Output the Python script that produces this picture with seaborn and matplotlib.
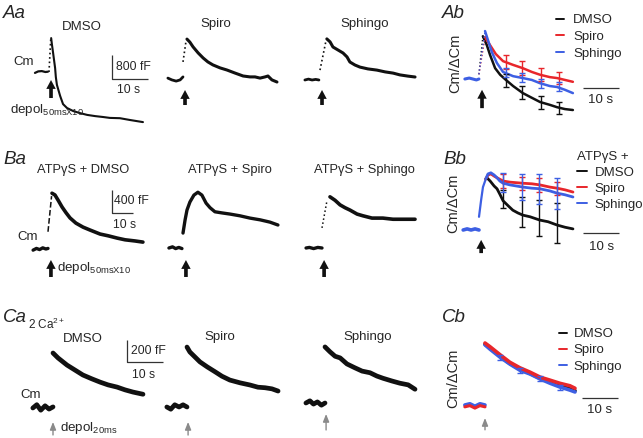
import matplotlib
matplotlib.use("Agg")
import matplotlib.pyplot as plt
import seaborn as sns

# ---------------- data (time in s from depolarisation, Cm in fF or normalised) ----------------
# Aa : raw Cm traces (fF)
aa_dmso_base_t = [-3.9, -3.0, -2.0, -1.0, -0.3]
aa_dmso_base_c = [-30, 20, 30, 0, 10]
aa_dmso_rise_t = [0.0, 0.5]
aa_dmso_rise_c = [0, 1130]
aa_dmso_t = [0.6, 0.8, 1.1, 1.4, 1.7, 1.9, 2.2, 3.1, 3.9, 5.0, 6.7, 8.6, 10.6, 12.8, 15.0, 16.9, 19.7, 22.5, 26.1]
aa_dmso_c = [1130, 930, 670, 400, 130, -170, -430, -800, -1070, -1200, -1300, -1370, -1430, -1470, -1500, -1530, -1540, -1600, -1670]

aa_spiro_base_t = [-4.2, -3.1, -1.9, -0.8, 0.0]
aa_spiro_base_c = [30, -30, -70, -30, 70]
aa_spiro_rise_t = [0.0, 0.8]
aa_spiro_rise_c = [570, 1230]
aa_spiro_t = [1.1, 1.9, 2.8, 4.2, 5.6, 6.9, 8.3, 10.3, 12.2, 14.4, 16.7, 18.6, 20.0, 21.4, 22.8, 23.6, 24.7, 26.1]
aa_spiro_c = [1330, 1230, 1070, 870, 700, 570, 470, 370, 300, 200, 100, 70, 70, 30, 70, 100, -30, -100]

aa_sph_base_t = [-4.2, -3.2, -2.2, -1.2, -0.3]
aa_sph_base_c = [0, 30, 0, 20, 0]
aa_sph_rise_t = [0.0, 1.7]
aa_sph_rise_c = [330, 1330]
aa_sph_t = [1.9, 2.8, 3.6, 5.0, 6.4, 7.5, 8.3, 9.7, 11.1, 13.3, 15.8, 18.1, 20.3, 22.2, 24.4, 26.4]
aa_sph_c = [1370, 1270, 1100, 1000, 900, 770, 600, 500, 430, 370, 330, 270, 230, 170, 130, 100]

# Ab : normalised Cm/dCm
ab_base_t = [-4.2, -3.0, -2.0, -1.0, -0.3]
ab_base_c = [0.0, 0.02, 0.0, -0.02, 0.0]
ab_black_t = [0.8, 1.9, 2.8, 4.2, 5.6, 7.2, 9.2, 11.9, 14.4, 16.7, 19.4, 21.4, 23.6, 25.8]
ab_black_c = [0.91, 0.72, 0.51, 0.23, 0.09, -0.02, -0.15, -0.30, -0.40, -0.49, -0.55, -0.60, -0.64, -0.66]
ab_red_t = [1.4, 2.8, 4.4, 6.4, 9.2, 11.9, 14.4, 16.7, 19.4, 21.4, 23.6, 25.8]
ab_red_c = [0.89, 0.72, 0.53, 0.38, 0.30, 0.23, 0.15, 0.09, 0.04, 0.02, -0.02, -0.06]
ab_blue_t = [1.4, 2.2, 3.3, 4.7, 6.4, 9.2, 11.9, 14.4, 16.7, 19.4, 21.4, 23.6, 25.8]
ab_blue_c = [1.02, 0.83, 0.57, 0.34, 0.15, 0.06, 0.02, -0.02, -0.09, -0.15, -0.17, -0.23, -0.30]
ab_err_t = [7.2, 11.7, 16.9, 21.9]
ab_black_m = [-0.03, -0.29, -0.50, -0.61]
ab_black_e = [0.14, 0.14, 0.13, 0.13]
ab_red_m = [0.36, 0.23, 0.09, 0.02]
ab_red_e = [0.15, 0.15, 0.14, 0.13]
ab_blue_m = [0.14, 0.03, -0.09, -0.16]
ab_blue_e = [0.10, 0.10, 0.10, 0.10]

# Ba : raw Cm traces with ATPgS (fF)
ba_dmso_base_t = [-7.1, -5.5, -4.0, -2.5, -1.0, 0.0]
ba_dmso_base_c = [-20, 10, -10, 20, 0, 10]
ba_dmso_rise_t = [0.0, 1.7]
ba_dmso_rise_c = [300, 920]
ba_dmso_t = [1.9, 3.3, 4.8, 6.7, 8.6, 10.5, 13.3, 16.7, 20.0, 24.8, 28.6, 32.9, 36.7, 41.4, 45.2]
ba_dmso_c = [970, 940, 850, 730, 630, 540, 450, 380, 330, 260, 230, 190, 160, 140, 120]

ba_spiro_base_t = [-6.7, -5.0, -3.5, -2.0, -0.5]
ba_spiro_base_c = [0, 20, -10, 10, -10]
ba_spiro_t = [0.0, 1.0, 1.9, 3.3, 5.2, 7.1, 9.0, 11.0, 12.9, 15.2, 18.6, 22.4, 27.1, 31.9, 36.7, 41.4, 45.2]
ba_spiro_c = [260, 490, 660, 800, 920, 970, 920, 780, 700, 630, 610, 590, 560, 520, 490, 450, 400]

ba_sph_base_t = [-7.6, -6.0, -4.0, -2.0, 0.0]
ba_sph_base_c = [0, 10, -10, 10, 0]
ba_sph_rise_t = [0.0, 2.4]
ba_sph_rise_c = [350, 830]
ba_sph_t = [3.8, 6.2, 8.6, 11.0, 13.3, 16.7, 19.5, 23.8, 29.0, 33.8, 38.6, 44.3]
ba_sph_c = [890, 830, 750, 700, 660, 590, 560, 520, 520, 500, 500, 500]

# Bb : normalised
bb_base_t = [-4.4, -3.3, -2.2, -1.1, 0.0]
bb_base_c = [0.0, 0.02, 0.0, 0.02, 0.0]
bb_rise_t = [0.0, 0.6, 1.1, 1.9]
bb_rise_c = [0.24, 0.55, 0.78, 0.93]
bb_black_t = [1.9, 2.2, 3.1, 4.2, 5.0, 5.8, 6.7, 8.1, 9.4, 10.8, 12.2, 14.2, 16.9, 19.2, 21.7, 23.9, 26.1]
bb_black_c = [0.93, 0.95, 0.89, 0.80, 0.75, 0.65, 0.53, 0.44, 0.36, 0.31, 0.27, 0.24, 0.18, 0.15, 0.09, 0.05, 0.02]
bb_red_t = [1.9, 2.5, 3.3, 4.2, 5.0, 6.7, 8.6, 12.2, 14.7, 16.9, 19.7, 21.7, 23.9, 26.1]
bb_red_c = [0.93, 1.00, 1.02, 0.98, 0.95, 0.89, 0.87, 0.85, 0.84, 0.82, 0.78, 0.76, 0.73, 0.69]
bb_blue_t = [1.9, 2.5, 3.3, 4.2, 5.0, 5.8, 6.7, 8.6, 12.2, 14.7, 16.9, 19.7, 21.7, 23.9, 26.1]
bb_blue_c = [0.93, 1.02, 1.04, 1.00, 0.95, 0.89, 0.85, 0.82, 0.78, 0.76, 0.75, 0.71, 0.67, 0.64, 0.60]
bb_err_t = [6.7, 11.9, 16.7, 21.7]
bb_black_m = [0.56, 0.33, 0.22, 0.13]
bb_black_e = [0.16, 0.27, 0.33, 0.36]
bb_red_m = [0.89, 0.85, 0.82, 0.76]
bb_red_e = [0.12, 0.12, 0.12, 0.12]
bb_blue_m = [0.86, 0.78, 0.75, 0.67]
bb_blue_e = [0.17, 0.24, 0.27, 0.28]

# Ca : raw Cm traces, 2 mM Ca2+ (fF)
ca_dmso_base_t = [-5.6, -4.5, -3.4, -2.2, -1.1, 0.0]
ca_dmso_base_c = [0, 30, -20, 20, -10, 10]
ca_dmso_t = [0.0, 1.4, 3.9, 6.1, 8.3, 10.8, 13.1, 15.3, 17.8, 20.0, 22.2, 25.0]
ca_dmso_c = [500, 455, 390, 345, 300, 265, 235, 210, 190, 165, 145, 125]
ca_spiro_base_t = [-5.6, -4.5, -3.4, -2.2, -1.1, 0.0]
ca_spiro_base_c = [0, -20, 20, 0, 20, 0]
ca_spiro_t = [0.0, 0.8, 2.2, 3.6, 5.6, 7.8, 9.7, 11.9, 14.7, 17.5, 19.7, 21.7, 23.6, 25.3]
ca_spiro_c = [545, 500, 455, 410, 365, 320, 280, 245, 220, 200, 180, 175, 165, 145]
ca_sph_base_t = [-5.3, -4.2, -3.2, -2.1, -1.0, 0.0]
ca_sph_base_c = [0, 20, -10, 10, -20, 0]
ca_sph_t = [0.0, 1.4, 2.8, 4.2, 6.1, 8.3, 10.3, 12.5, 14.4, 16.1, 18.6, 20.8, 23.1, 25.0]
ca_sph_c = [510, 465, 425, 410, 355, 320, 290, 275, 245, 225, 200, 180, 165, 125]

# Cb : normalised
cb_base_t = [-5.6, -4.2, -2.8, -1.4, 0.0]
cb_base_c = [0.0, 0.02, -0.02, 0.02, 0.0]
cb_t = [0.0, 1.4, 4.2, 6.9, 9.7, 12.5, 15.3, 18.1, 20.8, 23.6, 25.0]
cb_black_c = [0.98, 0.92, 0.79, 0.67, 0.58, 0.51, 0.43, 0.37, 0.31, 0.26, 0.23]
cb_red_c = [1.00, 0.94, 0.81, 0.69, 0.60, 0.53, 0.45, 0.40, 0.35, 0.31, 0.27]
cb_blue_c = [0.97, 0.90, 0.77, 0.66, 0.56, 0.50, 0.42, 0.35, 0.29, 0.24, 0.21]
cb_err_t = [4.2, 9.7, 15.3, 20.8]
cb_blue_m = [0.77, 0.56, 0.42, 0.29]
cb_blue_e = [0.04, 0.04, 0.04, 0.04]

conditions = ["DMSO", "Spiro", "Sphingo"]
scale_time = 10          # s
scale_aa = 800           # fF
scale_ba = 400           # fF
scale_ca = 200           # fF

# ---------------- style ----------------
sns.set_theme(style="white")
plt.rcParams["font.family"] = ["Liberation Sans", "DejaVu Sans"]
plt.rcParams["mathtext.fontset"] = "custom"
plt.rcParams["mathtext.rm"] = "Liberation Sans"
plt.rcParams["mathtext.it"] = "Liberation Sans:italic"

BLACK = "#111111"
RED = "#e8262b"
BLUE = "#3d5fe3"
GRAY = "#8a8a8a"
FS = 9

W, H = 643, 438
fig = plt.figure(figsize=(W / 100, H / 100), dpi=100)
fig.patch.set_facecolor("white")


def panel(rect, x0, y0, pps, ppu):
    l, t, r, b = rect
    ax = fig.add_axes([l / W, 1 - b / H, (r - l) / W, (b - t) / H])
    ax.set_xlim((l - x0) / pps, (r - x0) / pps)
    ax.set_ylim((y0 - b) / ppu, (y0 - t) / ppu)
    ax.axis("off")
    return ax


def trace(ax, t, c, color=BLACK, lw=1.6, ls="-", label=None):
    sns.lineplot(x=t, y=c, ax=ax, color=color, lw=lw, linestyle=ls,
                 estimator=None, sort=False, label=label, legend=False)


def T(x, y, s, ha="left", va="center", size=FS, **kw):
    fig.text(x / W, 1 - y / H, s, ha=ha, va=va, fontsize=size, **kw)


def big_arrow(ax, t, c_head, c_tail):
    ax.annotate("", xy=(t, c_head), xytext=(t, c_tail),
                arrowprops=dict(arrowstyle="simple,head_length=0.8,head_width=0.85,tail_width=0.33",
                                color=BLACK, lw=0, shrinkA=0, shrinkB=0, mutation_scale=8))


def thin_arrow(ax, t, c_head, c_tail):
    ax.annotate("", xy=(t, c_head), xytext=(t, c_tail),
                arrowprops=dict(arrowstyle="-|>,head_length=0.45,head_width=0.18",
                                color=GRAY, lw=1.0, shrinkA=0, shrinkB=0, mutation_scale=10))


def vscale(ax, t, c, dt, dc):
    ax.plot([t, t, t + dt], [c + dc, c, c], color="#333333", lw=0.9, solid_capstyle="butt")


def hscale(ax, t, c, dt):
    ax.plot([t, t + dt], [c, c], color="#333333", lw=0.9, solid_capstyle="butt")


def legend(ax, handles, labels, x, y, spacing, **kw):
    leg = ax.legend(handles, labels, loc="upper left", bbox_to_anchor=(x / W, 1 - y / H),
                    bbox_transform=fig.transFigure, frameon=False, fontsize=FS + 0.5,
                    labelspacing=spacing, borderpad=0, borderaxespad=0, **kw)
    for ln in leg.get_lines():
        ln.set_linewidth(1.4)
    return leg


# ---------------- Row A ----------------
ax = panel((28, 28, 160, 126), 49, 72, 3.6, 0.03)
trace(ax, aa_dmso_base_t, aa_dmso_base_c, lw=1.6)
trace(ax, aa_dmso_rise_t, aa_dmso_rise_c, lw=1.2, ls=":")
trace(ax, aa_dmso_t, aa_dmso_c, lw=1.5)
big_arrow(ax, 0.56, -267, -867)
vscale(ax, 17.5, -233, scale_time, scale_aa)

ax = panel((163, 28, 292, 126), 183, 79, 3.6, 0.03)
trace(ax, aa_spiro_base_t, aa_spiro_base_c, lw=2.0)
trace(ax, aa_spiro_rise_t, aa_spiro_rise_c, lw=1.2, ls=":")
trace(ax, aa_spiro_t, aa_spiro_c, lw=2.2)
big_arrow(ax, 0.56, -367, -867)

ax = panel((300, 28, 428, 126), 320, 80, 3.6, 0.03)
trace(ax, aa_sph_base_t, aa_sph_base_c, lw=2.0)
trace(ax, aa_sph_rise_t, aa_sph_rise_c, lw=1.2, ls=":")
trace(ax, aa_sph_t, aa_sph_c, lw=2.2)
big_arrow(ax, 0.56, -333, -833)

ax = panel((458, 22, 630, 118), 480, 79, 3.6, 47)
for col, tt, cc, lab in [(BLACK, ab_black_t, ab_black_c, conditions[0]),
                         (RED, ab_red_t, ab_red_c, conditions[1]),
                         (BLUE, ab_blue_t, ab_blue_c, conditions[2])]:
    trace(ax, [-0.3, tt[0]], [0.1, cc[0]], color=col, lw=1.0, ls=":")
    trace(ax, tt, cc, color=col, lw=1.8, label=lab)
for col, m, e in [(BLACK, ab_black_m, ab_black_e), (RED, ab_red_m, ab_red_e), (BLUE, ab_blue_m, ab_blue_e)]:
    ax.errorbar(ab_err_t, m, yerr=e, fmt="none", ecolor=col, elinewidth=1.0, capsize=2.2, capthick=1.0)
trace(ax, ab_base_t, ab_base_c, color=BLUE, lw=2.2)
big_arrow(ax, 0.56, -0.23, -0.62)
hscale(ax, 28.6, -0.19, scale_time)
h, l = ax.get_legend_handles_labels()
legend(ax, h, l, 556, 14, 0.35, handlelength=0.6, handletextpad=0.7)

# ---------------- Row B ----------------
ax = panel((28, 178, 160, 285), 48, 249, 2.1, 0.0575)
trace(ax, ba_dmso_base_t, ba_dmso_base_c, lw=2.4)
trace(ax, ba_dmso_rise_t, ba_dmso_rise_c, lw=1.1, ls="--")
trace(ax, ba_dmso_t, ba_dmso_c, lw=2.6)
big_arrow(ax, 1.4, -191, -487)
vscale(ax, 30.5, 626, scale_time, scale_ba)

ax = panel((160, 178, 295, 285), 183, 248, 2.1, 0.0575)
trace(ax, ba_spiro_base_t, ba_spiro_base_c, lw=2.4)
trace(ax, ba_spiro_t, ba_spiro_c, lw=2.4)
big_arrow(ax, 1.4, -209, -504)

ax = panel((298, 178, 428, 285), 322, 248, 2.1, 0.0575)
trace(ax, ba_sph_base_t, ba_sph_base_c, lw=2.4)
trace(ax, ba_sph_rise_t, ba_sph_rise_c, lw=1.1, ls=":")
trace(ax, ba_sph_t, ba_sph_c, lw=2.6)
big_arrow(ax, 1.0, -209, -504)

ax = panel((456, 165, 630, 262), 479, 230, 3.6, 55)
trace(ax, bb_rise_t, bb_rise_c, color=BLUE, lw=1.6)
for col, tt, cc, lab in [(BLACK, bb_black_t, bb_black_c, conditions[0]),
                         (RED, bb_red_t, bb_red_c, conditions[1]),
                         (BLUE, bb_blue_t, bb_blue_c, conditions[2])]:
    trace(ax, tt, cc, color=col, lw=2.0, label=lab)
for col, m, e in [(BLACK, bb_black_m, bb_black_e), (RED, bb_red_m, bb_red_e), (BLUE, bb_blue_m, bb_blue_e)]:
    ax.errorbar(bb_err_t, m, yerr=e, fmt="none", ecolor=col, elinewidth=1.0, capsize=2.2, capthick=1.0)
trace(ax, bb_base_t, bb_base_c, color=BLUE, lw=2.6)
big_arrow(ax, 0.6, -0.18, -0.42)
hscale(ax, 28.9, -0.055, scale_time)
h, l = ax.get_legend_handles_labels()
legend(ax, h, l, 577, 151, 0.28, title="ATP\u03b3S +", title_fontsize=FS + 0.5,
       handlelength=0.75, handletextpad=0.6, alignment="left")

# ---------------- Row C ----------------
ax = panel((28, 335, 170, 438), 53, 408, 3.6, 0.11)
trace(ax, ca_dmso_base_t, ca_dmso_base_c, lw=3.4)
trace(ax, ca_dmso_t, ca_dmso_c, lw=3.4)
thin_arrow(ax, 0.0, -127, -245)
vscale(ax, 20.6, 418, scale_time, scale_ca)

ax = panel((160, 335, 295, 438), 187, 407, 3.6, 0.11)
trace(ax, ca_spiro_base_t, ca_spiro_base_c, lw=3.4)
trace(ax, ca_spiro_t, ca_spiro_c, lw=3.4)
thin_arrow(ax, 0.3, -136, -255)

ax = panel((298, 335, 428, 438), 325, 403, 3.6, 0.11)
trace(ax, ca_sph_base_t, ca_sph_base_c, lw=3.4)
trace(ax, ca_sph_t, ca_sph_c, lw=3.4)
thin_arrow(ax, 0.3, -100, -245)

ax = panel((456, 325, 630, 438), 485, 405, 3.6, 62)
for col, cc, lab in [(BLACK, cb_black_c, conditions[0]), (BLUE, cb_blue_c, conditions[2]),
                     (RED, cb_red_c, conditions[1])]:
    trace(ax, cb_t, cc, color=col, lw=2.6, label=lab)
ax.errorbar(cb_err_t, cb_blue_m, yerr=cb_blue_e, fmt="none", ecolor=BLUE, elinewidth=1.0, capsize=2, capthick=1.0)
trace(ax, cb_base_t, cb_base_c, color=BLUE, lw=2.6)
trace(ax, cb_base_t, [v - 0.03 for v in cb_base_c], color=RED, lw=2.2)
thin_arrow(ax, 0.0, -0.21, -0.40)
hscale(ax, 26.9, 0.11, scale_time)
h, l = ax.get_legend_handles_labels()
order = [0, 2, 1]
legend(ax, [h[i] for i in order], [l[i] for i in order], 559, 328, 0.3,
       handlelength=0.6, handletextpad=0.5)

# ---------------- texts ----------------
for x, y, s in [(3, 13, "Aa"), (442, 13, "Ab"), (3, 160, "Ba"), (443, 160, "Bb"), (3, 318, "Ca"), (442, 318, "Cb")]:
    T(x, y, s, size=13.5, style="italic")

T(82, 27, "DMSO", ha="center", size=9.5)
T(216, 24, "Spiro", ha="center", size=9.5)
T(365, 24, "Sphingo", ha="center", size=9.5)
T(13, 62, "Cm", size=9.5)
T(116, 67, "800 fF", size=8.8)
T(117, 90, "10 s", size=8.8)
T(10, 110, r"depol$_{\mathrm{50msX10}}$", size=9.6)
T(455, 63, "Cm/\u0394Cm", ha="center", rotation=90, size=10.5)
T(601, 100, "10 s", ha="center", size=FS + 0.5)

T(83, 170, "ATP\u03b3S + DMSO", ha="center", size=9.3)
T(230, 170, "ATP\u03b3S + Spiro", ha="center", size=9.3)
T(364, 170, "ATP\u03b3S + Sphingo", ha="center", size=9.3)
T(114, 201, "400 fF", size=8.8)
T(113, 225, "10 s", size=8.8)
T(17, 237, "Cm", size=9.5)
T(57, 268, r"depol$_{\mathrm{50msX10}}$", size=9.6)
T(453, 203, "Cm/\u0394Cm", ha="center", rotation=90, size=10.5)
T(602, 247, "10 s", ha="center", size=FS + 0.5)

T(28, 324, r"2 Ca$^{2+}$", size=8.5)
T(83, 339, "DMSO", ha="center", size=9.5)
T(220, 337, "Spiro", ha="center", size=9.5)
T(368, 337, "Sphingo", ha="center", size=9.5)
T(131, 351, "200 fF", size=8.8)
T(132, 375, "10 s", size=8.8)
T(20, 395, "Cm", size=9.5)
T(60, 428, r"depol$_{\mathrm{20ms}}$", size=9.6)
T(453, 378, "Cm/\u0394Cm", ha="center", rotation=90, size=10.5)
T(600, 410, "10 s", ha="center", size=FS + 0.5)

fig.savefig("out.png", dpi=100, facecolor="white")
